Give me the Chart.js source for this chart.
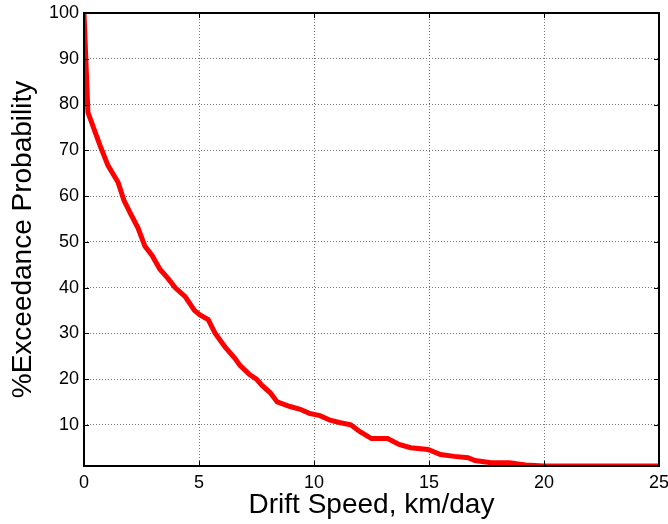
<!DOCTYPE html>
<html>
<head>
<meta charset="utf-8">
<script src="https://cdn.jsdelivr.net/npm/chart.js@4.4.0/dist/chart.umd.min.js"></script>
<style>
  html, body { margin: 0; padding: 0; background: #fff; }
  #wrap { width: 668px; height: 524px; }
</style>
</head>
<body>
<div id="wrap"><canvas id="grafico"></canvas></div>
<script>
// dados
var speeds = [0, 0.17, 0.7, 1.04, 1.48, 1.74, 2.04, 2.35, 2.65, 2.96, 3.3, 3.65, 3.96, 4.4, 4.8, 5.04, 5.4, 5.7,
  6.13, 6.57, 6.78, 7.2, 7.5, 7.74, 8.1, 8.4, 8.96, 9.4, 9.8, 10.26, 10.7, 11.1, 11.6, 12, 12.5, 13.2, 13.7,
  14.2, 14.96, 15.5, 16.1, 16.7, 17, 17.7, 18.5, 19.2, 20, 25];
var probs = [100, 78.3, 71, 66.7, 63, 59, 56, 53, 49, 47, 44, 42, 40, 38, 35, 34, 33, 30,
  27, 24.5, 23, 21, 20, 18.6, 17, 15, 14, 13.4, 12.5, 12, 11, 10.5, 10, 8.5, 7, 7, 5.7,
  5, 4.6, 3.5, 3.1, 2.8, 2.2, 1.7, 1.7, 1.2, 1, 1];
var xTicks = [0, 5, 10, 15, 20, 25];
var yTicks = [10, 20, 30, 40, 50, 60, 70, 80, 90, 100];

var pontos = speeds.map(function (s, i) { return { x: s, y: probs[i] }; });

// caixa preta + marcas de escala para dentro
var caixa = {
  id: 'caixa',
  afterDraw: function (chart) {
    var c = chart.ctx, a = chart.chartArea;
    var sx = chart.scales.x, sy = chart.scales.y;
    c.save();
    c.strokeStyle = '#000';
    c.lineWidth = 1;
    xTicks.forEach(function (t) {
      var px = Math.round(sx.getPixelForValue(t)) + 0.5;
      c.beginPath();
      c.moveTo(px, a.bottom); c.lineTo(px, a.bottom - 5);
      c.moveTo(px, a.top); c.lineTo(px, a.top + 5);
      c.stroke();
    });
    yTicks.forEach(function (t) {
      var py = Math.round(sy.getPixelForValue(t)) + 0.5;
      c.beginPath();
      c.moveTo(a.left, py); c.lineTo(a.left + 5, py);
      c.moveTo(a.right, py); c.lineTo(a.right - 5, py);
      c.stroke();
    });
    c.lineWidth = 2;
    c.strokeRect(a.left, a.top, a.right - a.left, a.bottom - a.top);
    c.restore();
  }
};

var ctx = document.getElementById('grafico').getContext('2d');

var grafico = new Chart(ctx, {
  type: 'line',
  data: {
    datasets: [{
      data: pontos,
      borderColor: '#ff0000',
      borderWidth: 5,
      pointRadius: 0,
      fill: false,
      tension: 0
    }]
  },
  options: {
    responsive: true,
    maintainAspectRatio: false,
    animation: false,
    layout: { padding: { top: 13, right: 9, left: 0, bottom: 0 } },
    plugins: { legend: { display: false }, tooltip: { enabled: false } },
    scales: {
      x: {
        type: 'linear',
        min: 0, max: 25,
        afterBuildTicks: function (s) { s.ticks = xTicks.map(function (v) { return { value: v }; }); },
        afterFit: function (s) { s.height = 58; s.paddingLeft = 0; s.paddingRight = 0; },
        grid: { color: '#777', lineWidth: 1, drawTicks: false },
        border: { display: false, dash: [1, 2] },
        ticks: { color: '#000', font: { family: 'Liberation Sans', size: 18 }, padding: 6, maxRotation: 0 },
        title: { display: true, text: 'Drift Speed, km/day', color: '#000',
          font: { family: 'Liberation Sans', size: 28 }, padding: { top: 0, bottom: 2 } }
      },
      y: {
        min: 1, max: 100,
        afterBuildTicks: function (s) { s.ticks = yTicks.map(function (v) { return { value: v }; }); },
        afterFit: function (s) { s.width = 84; s.paddingTop = 0; s.paddingBottom = 0; },
        grid: { color: '#777', lineWidth: 1, drawTicks: false },
        border: { display: false, dash: [1, 2] },
        ticks: { color: '#000', font: { family: 'Liberation Sans', size: 18 }, padding: 5 },
        title: { display: true, text: '%Exceedance Probability', color: '#000',
          font: { family: 'Liberation Sans', size: 28 }, padding: { top: 6, bottom: 0 } }
      }
    }
  },
  plugins: [caixa]
});
</script>
</body>
</html>
